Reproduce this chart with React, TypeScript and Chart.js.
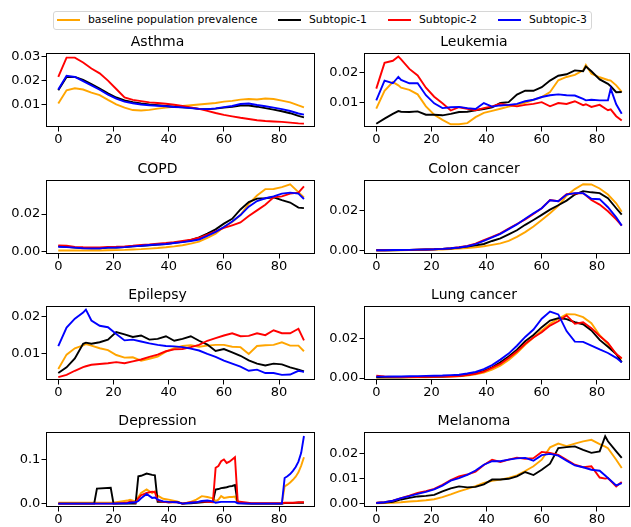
import React, { useEffect, useRef } from "react";
import { Chart, registerables } from "chart.js";

Chart.register(...registerables);

const FONT = "'DejaVu Sans', sans-serif";

const SERIES_NAMES = ["baseline population prevalence", "Subtopic-1", "Subtopic-2", "Subtopic-3"];
const SERIES_COLORS = ["#FFA500", "#000000", "#FF0000", "#0000FF"];

const X_TICKS = [0, 20, 40, 60, 80];

const AGES = [0, 3, 6, 9, 12, 15, 18, 21, 24, 27, 30, 33, 36, 39, 42, 45, 48, 51, 54, 57, 60, 63, 66, 69, 72, 75, 78, 81, 84, 87, 89];
const LEUK_AGES = [0, 3, 6, 8, 9, 12, 15, 18, 21, 24, 27, 30, 33, 36, 39, 42, 45, 48, 51, 54, 57, 60, 63, 66, 69, 72, 75, 76, 78, 81, 84, 85, 87, 89];
const EPI_AGES = [0, 3, 6, 9, 10, 12, 15, 18, 21, 24, 27, 30, 33, 36, 39, 42, 45, 48, 51, 54, 57, 60, 63, 66, 69, 72, 75, 78, 81, 84, 87, 89];
const MEL_AGES = [0, 3, 6, 9, 12, 15, 18, 21, 24, 27, 30, 33, 36, 39, 42, 45, 48, 51, 54, 57, 60, 63, 66, 69, 72, 75, 78, 81, 83, 84, 87, 89];
const DEP_AGES = [0, 5, 10, 13, 14, 19, 20, 25, 26, 28, 29, 30, 32, 34, 35, 36, 38, 40, 43, 45, 48, 50, 52, 54, 56, 57, 58, 59, 60, 61, 62, 63, 64, 65, 70, 75, 81, 82, 83, 84, 85, 86, 87, 88, 89];

// Asthma
const ASTHMA_BASE = [0.0105, 0.016, 0.0168, 0.0163, 0.015, 0.014, 0.012, 0.0102, 0.0088, 0.0078, 0.0076, 0.0079, 0.0084, 0.0088, 0.0092, 0.0095, 0.0098, 0.0101, 0.0104, 0.0107, 0.0113, 0.0116, 0.0121, 0.0124, 0.0122, 0.0126, 0.0124, 0.0117, 0.011, 0.0097, 0.0089];
const ASTHMA_S1 = [0.016, 0.0215, 0.0215, 0.0203, 0.0185, 0.0167, 0.0147, 0.013, 0.0118, 0.0111, 0.0105, 0.0101, 0.0098, 0.0095, 0.0092, 0.0089, 0.0087, 0.0083, 0.0082, 0.0084, 0.0088, 0.0092, 0.0097, 0.0097, 0.0092, 0.0086, 0.008, 0.0073, 0.0065, 0.0054, 0.0048];
const ASTHMA_S2 = [0.0215, 0.0295, 0.0295, 0.0275, 0.025, 0.023, 0.02, 0.0165, 0.013, 0.012, 0.0115, 0.011, 0.0107, 0.0104, 0.01, 0.0095, 0.0089, 0.0083, 0.0075, 0.0066, 0.0058, 0.0052, 0.0046, 0.0041, 0.0036, 0.0033, 0.0031, 0.0029, 0.0026, 0.0023, 0.0022];
const ASTHMA_S3 = [0.0163, 0.022, 0.0215, 0.0198, 0.018, 0.0162, 0.0142, 0.0125, 0.0113, 0.0106, 0.0101, 0.0098, 0.0096, 0.0094, 0.0091, 0.0089, 0.0086, 0.0083, 0.0082, 0.0085, 0.009, 0.0095, 0.0103, 0.0105, 0.0099, 0.0094, 0.0088, 0.0082, 0.0074, 0.0064, 0.0059];

// Leukemia
const LEUK_BASE = [0.008, 0.014, 0.0169, 0.0158, 0.015, 0.0143, 0.0128, 0.0088, 0.006, 0.0043, 0.0028, 0.0028, 0.0032, 0.0052, 0.0066, 0.0073, 0.008, 0.0087, 0.0093, 0.01, 0.011, 0.0119, 0.0136, 0.0175, 0.0186, 0.0193, 0.0208, 0.0226, 0.0197, 0.0185, 0.0176, 0.0174, 0.0158, 0.0136];
const LEUK_S1 = [0.003, 0.0047, 0.0063, 0.0072, 0.007, 0.0069, 0.0071, 0.006, 0.006, 0.0058, 0.0063, 0.0069, 0.007, 0.0075, 0.0079, 0.0085, 0.0099, 0.0102, 0.0127, 0.014, 0.014, 0.0152, 0.0174, 0.019, 0.0195, 0.0208, 0.0205, 0.0221, 0.0205, 0.0178, 0.0163, 0.0155, 0.0135, 0.0136];
const LEUK_S2 = [0.0147, 0.0233, 0.024, 0.0254, 0.0245, 0.0213, 0.0191, 0.015, 0.012, 0.0098, 0.0074, 0.0085, 0.008, 0.0075, 0.0082, 0.0088, 0.0097, 0.0092, 0.0088, 0.0093, 0.0096, 0.0102, 0.0088, 0.0099, 0.0096, 0.0105, 0.0092, 0.0095, 0.0086, 0.0093, 0.0075, 0.0078, 0.0055, 0.0041];
const LEUK_S3 = [0.0108, 0.0174, 0.0165, 0.0186, 0.0176, 0.0165, 0.0165, 0.0125, 0.0098, 0.0082, 0.0085, 0.0086, 0.0082, 0.0079, 0.0099, 0.0087, 0.0091, 0.0093, 0.0096, 0.0105, 0.011, 0.0119, 0.0125, 0.0128, 0.0125, 0.0124, 0.0113, 0.0108, 0.011, 0.0108, 0.0108, 0.0147, 0.0095, 0.0063];

// COPD
const COPD_BASE = [0.0005, 0.0005, 0.0005, 0.0005, 0.0005, 0.0005, 0.0006, 0.0007, 0.0008, 0.001, 0.0012, 0.0015, 0.0018, 0.0022, 0.0027, 0.0033, 0.0042, 0.0052, 0.0072, 0.0095, 0.0131, 0.0158, 0.0195, 0.0255, 0.03, 0.0334, 0.0335, 0.0345, 0.036, 0.0318, 0.029];
const COPD_S1 = [0.0027, 0.0025, 0.002, 0.0018, 0.0017, 0.0017, 0.002, 0.0021, 0.0023, 0.0027, 0.003, 0.0033, 0.0037, 0.004, 0.0046, 0.0052, 0.006, 0.0075, 0.0095, 0.0118, 0.0149, 0.0175, 0.0225, 0.0265, 0.0283, 0.0285, 0.029, 0.0275, 0.0262, 0.0235, 0.0232];
const COPD_S2 = [0.0032, 0.003, 0.0024, 0.0022, 0.0021, 0.0021, 0.0024, 0.0025, 0.0027, 0.003, 0.0034, 0.0037, 0.0041, 0.0045, 0.005, 0.0056, 0.0063, 0.0073, 0.009, 0.0108, 0.0126, 0.014, 0.0155, 0.019, 0.022, 0.025, 0.029, 0.0295, 0.031, 0.0315, 0.0349];
const COPD_S3 = [0.0025, 0.0023, 0.002, 0.0017, 0.0016, 0.0016, 0.002, 0.0021, 0.0023, 0.0027, 0.003, 0.0034, 0.0037, 0.004, 0.0045, 0.005, 0.0056, 0.0064, 0.0083, 0.0105, 0.0131, 0.016, 0.0195, 0.024, 0.027, 0.0285, 0.0295, 0.031, 0.0315, 0.031, 0.0281];

// Colon cancer
const COLON_BASE = [0.0002, 0.0002, 0.0002, 0.0002, 0.0003, 0.0003, 0.0004, 0.0005, 0.0006, 0.0008, 0.001, 0.0013, 0.0017, 0.0022, 0.0029, 0.0036, 0.0048, 0.0068, 0.0092, 0.012, 0.0152, 0.0185, 0.0222, 0.0272, 0.0305, 0.0329, 0.0328, 0.0308, 0.0278, 0.0235, 0.0193];
const COLON_S1 = [0.0002, 0.0002, 0.0002, 0.0003, 0.0004, 0.0005, 0.0006, 0.0007, 0.0009, 0.0011, 0.0015, 0.002, 0.0026, 0.0033, 0.0048, 0.0061, 0.0081, 0.0101, 0.0128, 0.0152, 0.0177, 0.0203, 0.0225, 0.0248, 0.0278, 0.0295, 0.0289, 0.0285, 0.026, 0.021, 0.0178];
const COLON_S2 = [0.0002, 0.0002, 0.0003, 0.0003, 0.0004, 0.0005, 0.0006, 0.0007, 0.0009, 0.0012, 0.0017, 0.0024, 0.0035, 0.0052, 0.0068, 0.0086, 0.011, 0.0132, 0.0155, 0.0182, 0.021, 0.0251, 0.0245, 0.028, 0.0283, 0.0285, 0.0251, 0.0228, 0.0195, 0.0155, 0.0124];
const COLON_S3 = [0.0002, 0.0002, 0.0003, 0.0003, 0.0004, 0.0005, 0.0006, 0.0007, 0.0009, 0.0012, 0.0016, 0.0022, 0.0032, 0.0048, 0.0066, 0.0083, 0.0107, 0.013, 0.0158, 0.0185, 0.021, 0.025, 0.0245, 0.0278, 0.0285, 0.0285, 0.0257, 0.0255, 0.0215, 0.0165, 0.0124];

// Epilepsy
const EPI_BASE = [0.006, 0.0098, 0.0115, 0.0123, 0.0126, 0.0122, 0.0115, 0.011, 0.0097, 0.009, 0.0091, 0.0082, 0.0087, 0.0093, 0.0106, 0.0115, 0.0121, 0.0123, 0.0119, 0.0122, 0.0124, 0.0124, 0.0119, 0.0118, 0.01, 0.0121, 0.0123, 0.0124, 0.0131, 0.0122, 0.0122, 0.0107];
const EPI_S1 = [0.0049, 0.0064, 0.0088, 0.0127, 0.013, 0.0127, 0.0131, 0.0138, 0.0158, 0.0152, 0.0145, 0.0149, 0.0138, 0.014, 0.0147, 0.0135, 0.014, 0.0147, 0.0135, 0.0125, 0.0108, 0.0113, 0.0104, 0.0095, 0.0083, 0.0074, 0.0069, 0.0074, 0.0072, 0.0064, 0.0058, 0.0053];
const EPI_S2 = [0.0038, 0.0044, 0.0055, 0.0065, 0.0067, 0.0071, 0.0073, 0.0075, 0.0078, 0.0075, 0.008, 0.0085, 0.0092, 0.0098, 0.0107, 0.0112, 0.0113, 0.0118, 0.0124, 0.0135, 0.0142, 0.0149, 0.0155, 0.0147, 0.0148, 0.0155, 0.015, 0.0163, 0.0155, 0.0155, 0.0167, 0.0136];
const EPI_S3 = [0.0121, 0.017, 0.0194, 0.021, 0.0218, 0.0189, 0.0175, 0.0171, 0.0153, 0.0136, 0.0138, 0.0133, 0.0128, 0.0124, 0.0121, 0.012, 0.0118, 0.0114, 0.0109, 0.01, 0.0092, 0.0082, 0.0074, 0.0066, 0.0055, 0.0058, 0.0049, 0.0049, 0.0044, 0.0045, 0.0055, 0.0052];

// Lung cancer
const LUNG_BASE = [0.0003, 0.0003, 0.0003, 0.0003, 0.0003, 0.0004, 0.0004, 0.0005, 0.0006, 0.0007, 0.0009, 0.0013, 0.0019, 0.0028, 0.0043, 0.0063, 0.0092, 0.0128, 0.017, 0.0207, 0.0243, 0.0277, 0.0303, 0.0326, 0.0325, 0.0311, 0.028, 0.0219, 0.0174, 0.0122, 0.0098];
const LUNG_S1 = [0.0004, 0.0004, 0.0004, 0.0004, 0.0005, 0.0005, 0.0006, 0.0007, 0.0008, 0.001, 0.0012, 0.0017, 0.0024, 0.0037, 0.0055, 0.008, 0.011, 0.0145, 0.0188, 0.022, 0.026, 0.0294, 0.0306, 0.0301, 0.0285, 0.0275, 0.0243, 0.0195, 0.016, 0.0123, 0.008];
const LUNG_S2 = [0.0012, 0.0008, 0.0006, 0.0005, 0.0005, 0.0005, 0.0006, 0.0006, 0.0007, 0.0008, 0.001, 0.0015, 0.0022, 0.0033, 0.0052, 0.0072, 0.0102, 0.0135, 0.0175, 0.0207, 0.0234, 0.0268, 0.029, 0.032, 0.0277, 0.0285, 0.0255, 0.0215, 0.018, 0.0123, 0.0101];
const LUNG_S3 = [0.0007, 0.0007, 0.0008, 0.0008, 0.0009, 0.001, 0.0011, 0.0012, 0.0013, 0.0015, 0.0017, 0.0023, 0.0031, 0.0046, 0.0066, 0.0094, 0.0125, 0.0165, 0.021, 0.0248, 0.0303, 0.034, 0.0325, 0.024, 0.0186, 0.0185, 0.0166, 0.0146, 0.0128, 0.0103, 0.008];

// Depression (own age grid)
const DEP_BASE = [0.002, 0.002, 0.002, 0.002, 0.002, 0.002, 0.002, 0.007, 0.009, 0.005, 0.015, 0.024, 0.032, 0.024, 0.028, 0.018, 0.011, 0.009, 0.005, 0, 0.004, 0.009, 0.017, 0.015, 0.012, 0.006, 0.009, 0.017, 0.013, 0.014, 0.015, 0.015, 0.016, 0.002, 0, 0, 0, 0.039, 0.043, 0.048, 0.054, 0.061, 0.071, 0.086, 0.105];
const DEP_S1 = [0, 0, 0, 0, 0.034, 0.036, 0, 0, 0, 0, 0.062, 0.063, 0.068, 0.065, 0.064, 0.004, 0.004, 0.003, 0.004, 0, 0.001, 0.002, 0.003, 0.004, 0.004, 0.032, 0.033, 0.035, 0.036, 0.037, 0.039, 0.04, 0.042, 0.001, 0, 0, 0, 0.0015, 0.0015, 0.0015, 0.0015, 0.002, 0.002, 0.002, 0.002];
const DEP_S2 = [0, 0, 0, 0, 0, 0, 0, 0.002, 0.005, 0.002, 0.012, 0.019, 0.024, 0.027, 0.026, 0.007, 0.004, 0.003, 0.003, 0, 0.003, 0.003, 0.005, 0.004, 0.003, 0.081, 0.085, 0.096, 0.1, 0.092, 0.095, 0.1, 0.105, 0.005, 0.001, 0.001, 0.001, 0.002, 0.002, 0.002, 0.002, 0.002, 0.003, 0.003, 0.003];
const DEP_S3 = [0, 0, 0, 0, 0, 0, 0, 0.001, 0.002, 0.003, 0.006, 0.012, 0.022, 0.013, 0.014, 0.009, 0.005, 0.004, 0.003, 0, 0.002, 0.003, 0.006, 0.007, 0.005, 0.002, 0.003, 0.004, 0.004, 0.004, 0.004, 0.004, 0.004, 0.001, 0, 0, 0, 0.058, 0.062, 0.067, 0.074, 0.083, 0.095, 0.115, 0.153];

// Melanoma
const MEL_BASE = [0.0003, 0.0004, 0.0005, 0.0007, 0.001, 0.0012, 0.0015, 0.0019, 0.0027, 0.0038, 0.005, 0.006, 0.0071, 0.0084, 0.0092, 0.0097, 0.0104, 0.0114, 0.0131, 0.015, 0.0176, 0.0225, 0.024, 0.023, 0.024, 0.0249, 0.0255, 0.0238, 0.0228, 0.0222, 0.0176, 0.0143];
const MEL_S1 = [0.0004, 0.0006, 0.0009, 0.0018, 0.0024, 0.003, 0.0032, 0.0036, 0.005, 0.0062, 0.007, 0.0066, 0.0068, 0.0078, 0.0097, 0.0097, 0.01, 0.011, 0.0127, 0.0115, 0.0136, 0.016, 0.0222, 0.0226, 0.0229, 0.0215, 0.0203, 0.0209, 0.0269, 0.0249, 0.0209, 0.0183];
const MEL_S2 = [0.0005, 0.0007, 0.0013, 0.0023, 0.0033, 0.0044, 0.0051, 0.006, 0.0076, 0.0095, 0.011, 0.0117, 0.0128, 0.0155, 0.0176, 0.0167, 0.0176, 0.0184, 0.018, 0.0182, 0.0207, 0.0203, 0.0195, 0.0175, 0.0156, 0.0146, 0.015, 0.0105, 0.0101, 0.0103, 0.007, 0.0087];
const MEL_S3 = [0.0004, 0.0007, 0.0013, 0.0023, 0.0031, 0.004, 0.0048, 0.0058, 0.0073, 0.0093, 0.0103, 0.0116, 0.0133, 0.0156, 0.017, 0.017, 0.0176, 0.0181, 0.0183, 0.0172, 0.0194, 0.0199, 0.0192, 0.0172, 0.0153, 0.0146, 0.0136, 0.0132, 0.0113, 0.0103, 0.0074, 0.0083];

type PanelDef = {
  title: string;
  ages: number[];
  series: number[][];
  yMin: number;
  yMax: number;
  yTicks: number[];
  decimals: number;
  col: number;
  row: number;
};

const PANELS: PanelDef[] = [
  { title: "Asthma", ages: AGES, series: [ASTHMA_BASE, ASTHMA_S1, ASTHMA_S2, ASTHMA_S3], yMin: 0.0008, yMax: 0.0314, yTicks: [0.01, 0.02, 0.03], decimals: 2, col: 0, row: 0 },
  { title: "Leukemia", ages: LEUK_AGES, series: [LEUK_BASE, LEUK_S1, LEUK_S2, LEUK_S3], yMin: 0.0019, yMax: 0.0266, yTicks: [0.01, 0.02], decimals: 2, col: 1, row: 0 },
  { title: "COPD", ages: AGES, series: [COPD_BASE, COPD_S1, COPD_S2, COPD_S3], yMin: -0.0014, yMax: 0.0383, yTicks: [0, 0.02], decimals: 2, col: 0, row: 1 },
  { title: "Colon cancer", ages: AGES, series: [COLON_BASE, COLON_S1, COLON_S2, COLON_S3], yMin: -0.00165, yMax: 0.035, yTicks: [0, 0.02], decimals: 2, col: 1, row: 1 },
  { title: "Epilepsy", ages: EPI_AGES, series: [EPI_BASE, EPI_S1, EPI_S2, EPI_S3], yMin: 0.00304, yMax: 0.02277, yTicks: [0.01, 0.02], decimals: 2, col: 0, row: 2 },
  { title: "Lung cancer", ages: AGES, series: [LUNG_BASE, LUNG_S1, LUNG_S2, LUNG_S3], yMin: -0.001, yMax: 0.0368, yTicks: [0, 0.02], decimals: 2, col: 1, row: 2 },
  { title: "Depression", ages: DEP_AGES, series: [DEP_BASE, DEP_S1, DEP_S2, DEP_S3], yMin: -0.0076, yMax: 0.162, yTicks: [0, 0.1], decimals: 1, col: 0, row: 3 },
  { title: "Melanoma", ages: MEL_AGES, series: [MEL_BASE, MEL_S1, MEL_S2, MEL_S3], yMin: -0.0012, yMax: 0.0286, yTicks: [0, 0.01, 0.02], decimals: 2, col: 1, row: 3 },
];

// layout (pixels)
const ROW_TOP = [53, 180, 306, 432];
const ROW_BOTTOM = [127, 254, 380, 507];
const COL_LEFT = [0, 318];
const COL_WIDTH = [325, 313];
const COL_PAD_RIGHT = [10, 1];
const COL_XMAX = [93, 92];
const TITLE_H = 22;
const XAXIS_H = 22;
const YAXIS_W = 46;

const framePlugin = {
  id: "frameBox",
  afterDatasetsDraw(chart: any) {
    const { ctx, chartArea } = chart;
    const l = Math.round(chartArea.left) + 0.5;
    const t = Math.round(chartArea.top) + 0.5;
    const r = Math.round(chartArea.right) - 0.5;
    const b = Math.round(chartArea.bottom) - 0.5;
    ctx.save();
    ctx.strokeStyle = "#000";
    ctx.lineWidth = 1;
    ctx.strokeRect(l, t, r - l, b - t);
    ctx.restore();
  },
};

function Panel({ p }: { p: PanelDef }) {
  const ref = useRef<HTMLCanvasElement>(null);
  const width = COL_WIDTH[p.col];
  const height = ROW_BOTTOM[p.row] - ROW_TOP[p.row] + TITLE_H + XAXIS_H;

  useEffect(() => {
    if (!ref.current) return;
    const orders = [4, 3, 2, 1];
    const datasets = p.series.map((vals, si) => ({
      label: SERIES_NAMES[si],
      data: p.ages.map((x, i) => ({ x, y: vals[i] })),
      borderColor: SERIES_COLORS[si],
      backgroundColor: SERIES_COLORS[si],
      borderWidth: 1.9,
      pointRadius: 0,
      pointHoverRadius: 0,
      tension: 0,
      fill: false,
      order: orders[si],
    }));
    const tickFont = { family: FONT, size: 13 };
    const grid = { display: true, drawOnChartArea: false, drawTicks: true, tickLength: 4.5, color: "#000", lineWidth: 1 };
    const chart = new Chart(ref.current, {
      type: "line",
      data: { datasets },
      options: {
        animation: false,
        responsive: false,
        maintainAspectRatio: false,
        devicePixelRatio: 1,
        events: [],
        layout: { padding: { left: 0, right: COL_PAD_RIGHT[p.col], top: 0, bottom: 0 } },
        plugins: {
          legend: { display: false },
          tooltip: { enabled: false },
          title: {
            display: true,
            text: p.title,
            color: "#000",
            font: { family: FONT, size: 14, weight: "normal", lineHeight: 1.2 },
            padding: { top: 2.6, bottom: 2.6 },
          },
        },
        scales: {
          x: {
            type: "linear",
            min: -4.45,
            max: COL_XMAX[p.col],
            bounds: "data",
            afterBuildTicks: (s: any) => {
              s.ticks = X_TICKS.map((v) => ({ value: v }));
            },
            afterFit: (s: any) => {
              s.height = XAXIS_H;
            },
            ticks: {
              color: "#000",
              font: tickFont,
              padding: 0,
              maxRotation: 0,
              autoSkip: false,
              callback: (v: any) => String(v),
            },
            grid,
            border: { display: false },
          },
          y: {
            type: "linear",
            min: p.yMin,
            max: p.yMax,
            bounds: "data",
            afterBuildTicks: (s: any) => {
              s.ticks = p.yTicks.map((v) => ({ value: v }));
            },
            afterFit: (s: any) => {
              s.width = YAXIS_W;
            },
            ticks: {
              color: "#000",
              font: tickFont,
              padding: 1.2,
              autoSkip: false,
              callback: (v: any) => Number(v).toFixed(p.decimals),
            },
            grid,
            border: { display: false },
          },
        },
      } as any,
      plugins: [framePlugin],
    });
    return () => chart.destroy();
  }, []);

  return (
    <canvas
      ref={ref}
      width={width}
      height={height}
      style={{
        position: "absolute",
        left: COL_LEFT[p.col],
        top: ROW_TOP[p.row] - TITLE_H,
        width,
        height,
      }}
    />
  );
}

const LEGEND_LINE_X = [57, 278, 388, 498];
const LEGEND_TEXT_X = [88, 309, 419, 529];

function Legend() {
  return (
    <div>
      <div
        style={{
          position: "absolute",
          left: 53,
          top: 11,
          width: 537,
          height: 17,
          border: "1px solid #d6d6d6",
          borderRadius: 3,
          background: "rgba(255,255,255,0.8)",
        }}
      />
      {SERIES_NAMES.map((name, i) => (
        <React.Fragment key={name}>
          <div
            style={{
              position: "absolute",
              left: LEGEND_LINE_X[i],
              top: 18.5,
              width: 23,
              height: 2,
              background: SERIES_COLORS[i],
            }}
          />
          <div
            style={{
              position: "absolute",
              left: LEGEND_TEXT_X[i],
              top: 11,
              height: 17,
              lineHeight: "17px",
              fontFamily: FONT,
              fontSize: 10.8,
              color: "#000",
              whiteSpace: "nowrap",
            }}
          >
            {name}
          </div>
        </React.Fragment>
      ))}
    </div>
  );
}

export default function App() {
  return (
    <div
      style={{
        position: "fixed",
        left: 0,
        top: 0,
        width: 631,
        height: 527,
        overflow: "hidden",
        background: "#fff",
      }}
    >
      <Legend />
      {PANELS.map((p) => (
        <Panel key={p.title} p={p} />
      ))}
    </div>
  );
}
